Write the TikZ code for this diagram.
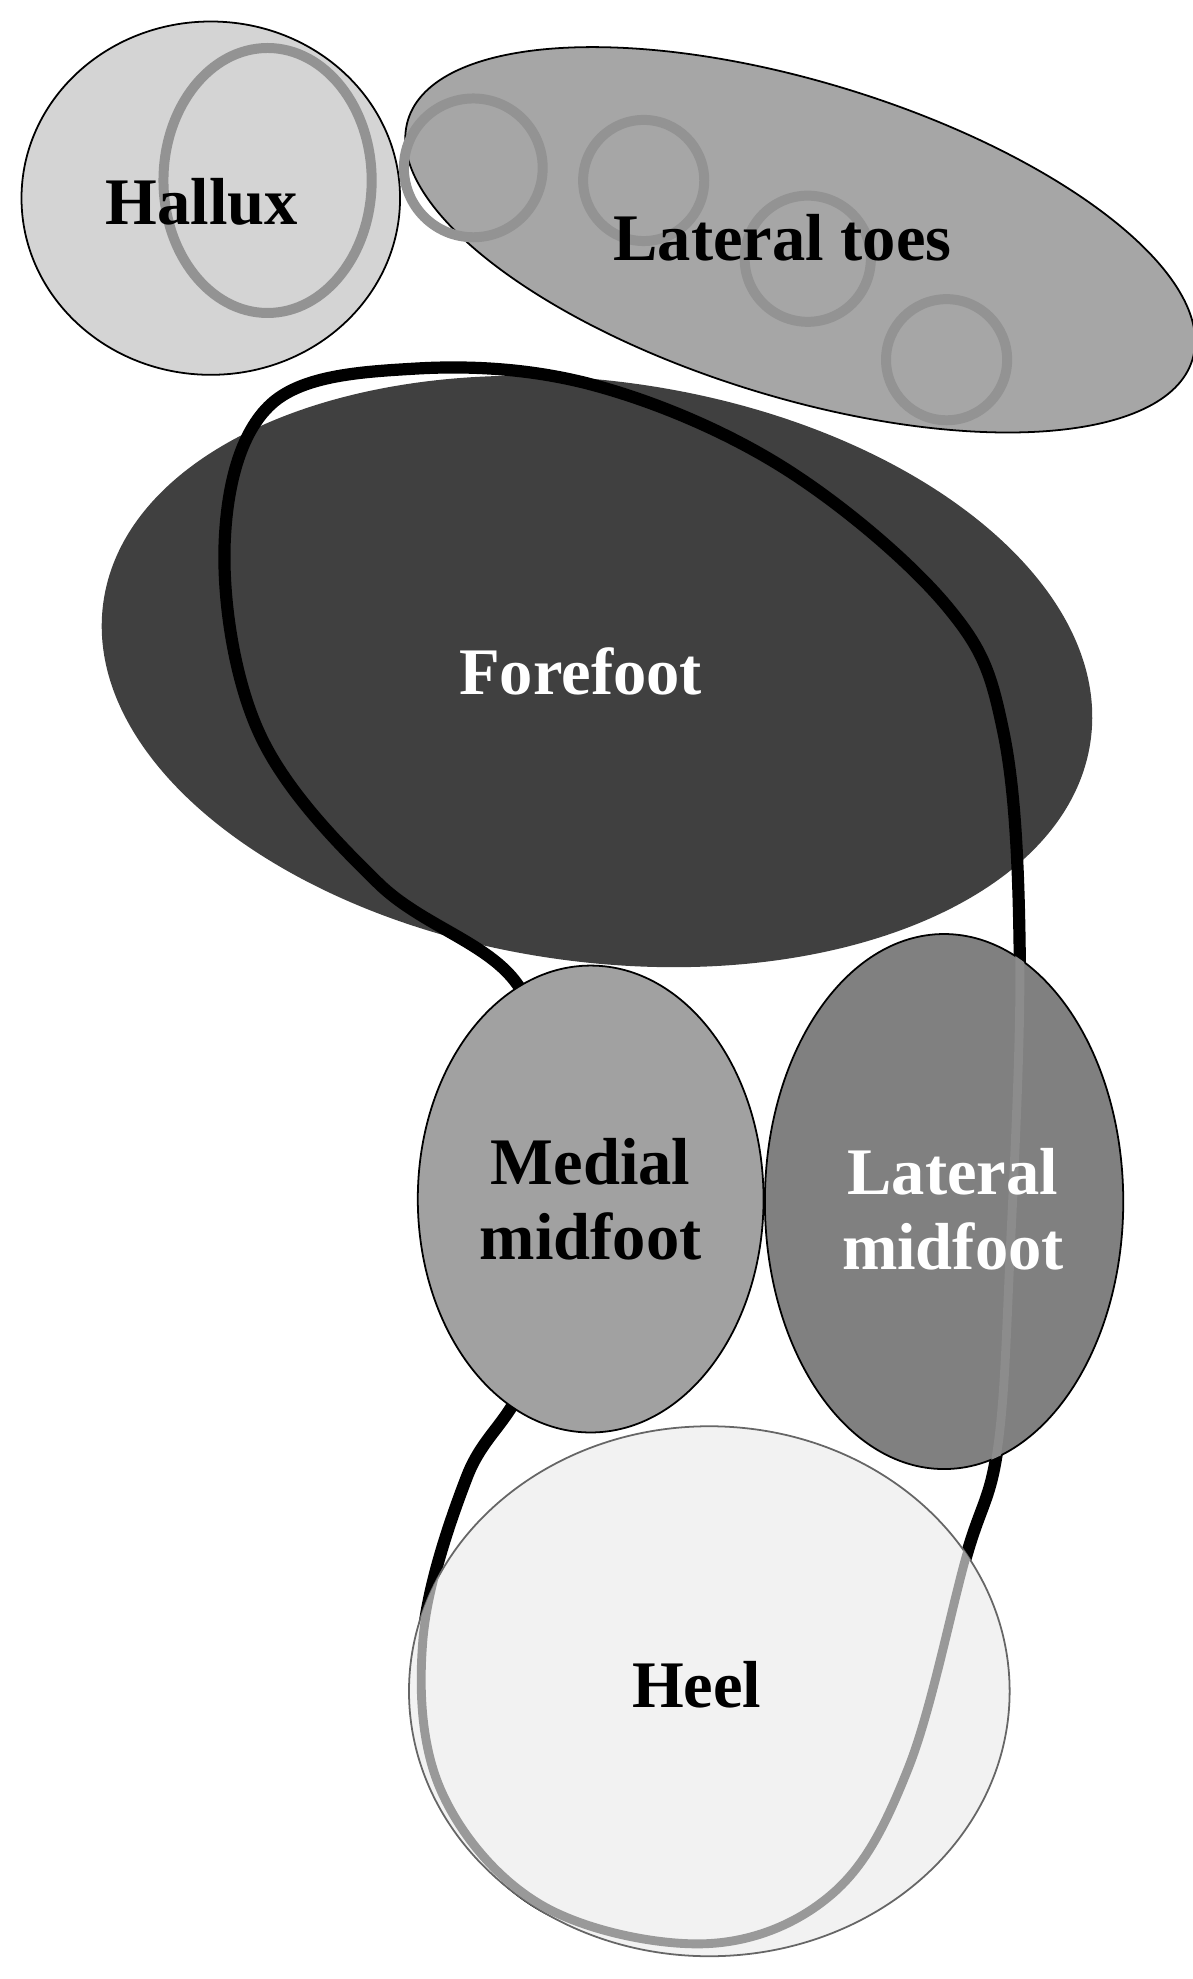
\documentclass[tikz,border=0pt]{standalone}
\usepackage{fontspec}
\setmainfont{Liberation Serif}
\usetikzlibrary{shapes.geometric}
\begin{document}
\begin{tikzpicture}[x=0.02cm,y=0.02cm,
  reg/.style={ellipse,draw=black,line width=0.8pt,inner sep=0pt,font=\fontsize{30}{34}\selectfont\bfseries,align=center},
  lbl/.style={font=\fontsize{30}{34}\selectfont\bfseries,align=center},
  ring/.style={circle,draw=gray!85,line width=4.5pt,inner sep=0pt,minimum size=#1},
  foot/.style={line width=5.5pt,line join=round}]
\useasboundingbox (0,0) rectangle (945,-1568);
\node[reg,fill=black!17,minimum width=6.0cm,minimum height=5.6cm] (hal) at (167,-157) {};
\node[ellipse,draw=gray!85,line width=4.5pt,minimum width=3.3cm,minimum height=4.2cm,inner sep=0pt] (halring) at (212,-143) {};
\node[lbl] (haltxt) at (160,-160) {Hallux};
\node[reg,fill=black!35,minimum width=13cm,minimum height=5cm,rotate=-17] (toes) at (634,-190) {};
\node[ring=2.2cm] (r1) at (375,-133) {};
\node[ring=1.92cm] (r2) at (510,-143) {};
\node[ring=2.0cm] (r3) at (640,-205) {};
\node[ring=1.92cm] (r4) at (750,-285) {};
\node[lbl] (toestxt) at (620,-188) {Lateral toes};
\node[ellipse,fill=black!75,inner sep=0pt,minimum width=15.8cm,minimum height=9.2cm,rotate=-8] (fore) at (473,-532) {};
\node[lbl,text=white] (foretxt) at (460,-532) {Forefoot};
\def\outline{plot[smooth cycle,tension=0.6] coordinates{(410,-780) (300,-700) (205,-580) (178,-430) (215,-320) (330,-292) (470,-305) (620,-370) (750,-480) (795,-580) (808,-760) (800,-1000) (790,-1150) (765,-1235) (720,-1400) (660,-1500) (560,-1540) (430,-1510) (350,-1420) (335,-1300) (370,-1170) (420,-1080) (440,-900)}}
\draw[foot,black] \outline;
\node[reg,fill=black!37,minimum width=5.48cm,minimum height=7.4cm] (med) at (468,-950) {Medial\\midfoot};
\node[reg,fill=black!50,minimum width=5.68cm,minimum height=8.48cm] (lat) at (748,-952) {};
\begin{scope}
\clip (748,-952) ellipse [x radius=2.84cm,y radius=4.24cm];
\draw[foot,gray!90,line width=4pt] \outline;
\end{scope}
\node[lbl,text=white] (lattxt) at (755,-958) {Lateral\\midfoot};
\node[reg,fill=black!5,draw=black!60,minimum width=9.52cm,minimum height=8.4cm] (heel) at (562,-1340) {};
\begin{scope}
\clip (562,-1340) ellipse [x radius=4.76cm,y radius=4.2cm];
\draw[foot,gray!80,line width=4pt] \outline;
\end{scope}
\node[lbl] (heeltxt) at (552,-1335) {Heel};
\end{tikzpicture}
\end{document}
